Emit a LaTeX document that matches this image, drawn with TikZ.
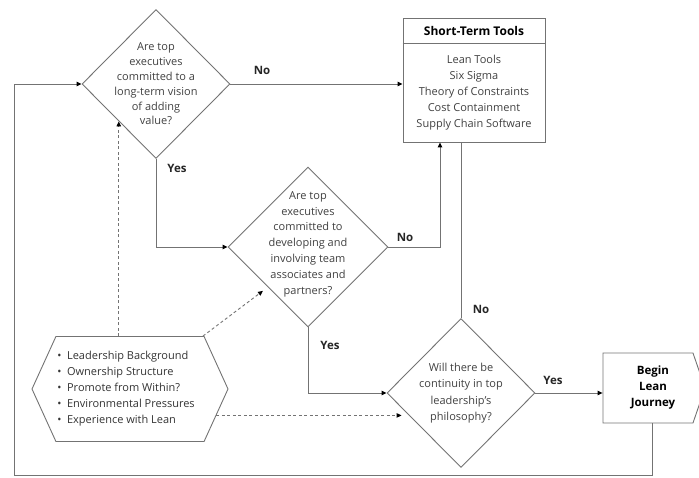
\documentclass[tikz,border=0pt]{standalone}
\usepackage{fontspec}
\setmainfont{Open Sans}
\usetikzlibrary{shapes.geometric,shapes.symbols,arrows.meta,calc,positioning}

\tikzset{
  flow/.style={draw=black!55, line width=0.9pt},
  arr/.style={-{Triangle[length=5pt,width=4.5pt,color=black]}},
  influence/.style={flow, dashed, dash pattern=on 3pt off 2.5pt, arr},
  decision/.style={diamond, flow, inner sep=0pt},
  qtext/.style={align=center, font=\fontsize{11}{14.8}\selectfont, text=black!75},
  lbl/.style={font=\fontsize{11.5}{12}\selectfont\bfseries, text=black!85},
}

\begin{document}
\begin{tikzpicture}[x=1pt,y=-1pt]
\useasboundingbox (0,0) rectangle (699,478);

% questions
\node[decision, minimum width=148pt, minimum height=149pt] (q1) at (156,84) {};
\node[qtext] (q1text) at (q1) {Are top\\executives\\committed to a\\long-term vision\\of adding\\value?};
\node[decision, minimum width=160pt, minimum height=160pt] (q2) at (308,247) {};
\node[qtext, font=\fontsize{11}{15.8}\selectfont] (q2text) at (308,244) {Are top\\executives\\committed to\\developing and\\involving team\\associates and\\partners?};
\node[decision, minimum width=148pt, minimum height=149pt] (q3) at (461,393) {};
\node[qtext, font=\fontsize{11}{16.5}\selectfont] (q3text) at (q3) {Will there be\\continuity in top\\leadership's\\philosophy?};

% short-term tools
\node[flow, rectangle, minimum width=142pt, minimum height=124pt] (tools) at (474,80) {};
\node[font=\fontsize{12}{13}\selectfont\bfseries] (toolshead) at (474,31) {Short-Term Tools};
\draw[flow] ([yshift=-26pt]tools.north west) -- ([yshift=-26pt]tools.north east);
\node[qtext, font=\fontsize{11}{16}\selectfont] (toolslist) at (474,93) {Lean Tools\\Six Sigma\\Theory of Constraints\\Cost Containment\\Supply Chain Software};

% end
\node[signal, signal to=east, signal pointer angle=142, flow, minimum width=102pt,
  minimum height=70pt, inner sep=0pt] (lean) at (648,388) {};
\node[align=center, font=\fontsize{11.5}{16}\selectfont\bfseries] (leantext) at (653,388) {Begin\\Lean\\Journey};

% factors
\node[signal, signal to=east and west, signal pointer angle=131, flow, minimum width=196pt,
  minimum height=105pt, inner sep=0pt] (hex) at (130,389) {};
\node[align=left, font=\fontsize{11}{16}\selectfont, text=black!80] (hextext) at (126,389)
  {\textbullet\ \ Leadership Background\\\textbullet\ \ Ownership Structure\\\textbullet\ \ Promote from Within?\\\textbullet\ \ Environmental Pressures\\\textbullet\ \ Experience with Lean};

% connectors
\draw[flow, arr] (q1.east) -- (q1.east -| tools.west);
\draw[flow, arr] (q1.south) |- (q2.west);
\draw[flow, arr] (q2.east) -| ([xshift=-34pt]tools.south);
\draw[flow] (tools.south -| q3.north) -- (q3.north);
\draw[flow, arr] (q2.south) |- (q3.west);
\draw[flow, arr] (q3.east) -- (q3.east -| lean.west);
\coordinate (loopcorner) at (14,475);
\draw[flow, arr] ([xshift=4pt]lean.south) |- (loopcorner) |- (q1.west);

\draw[influence] (hex.north -| q1.south west) -- (q1.south west);
\draw[influence, shorten >=6pt] ([xshift=73pt]hex.north) -- (q2.south west);
\draw[influence] (hex.-17) -- ($(hex.-17 -| q3.west)+(15,0)$);

% answers
\node[lbl] (noq1) at (262,70) {No};
\node[lbl] (yesq1) at (177,168) {Yes};
\node[lbl] (noq2) at (405,237) {No};
\node[lbl] (yesq2) at (330,345) {Yes};
\node[lbl] (noq3) at (481,309) {No};
\node[lbl] (yesq3) at (553,380) {Yes};
\end{tikzpicture}
\end{document}
